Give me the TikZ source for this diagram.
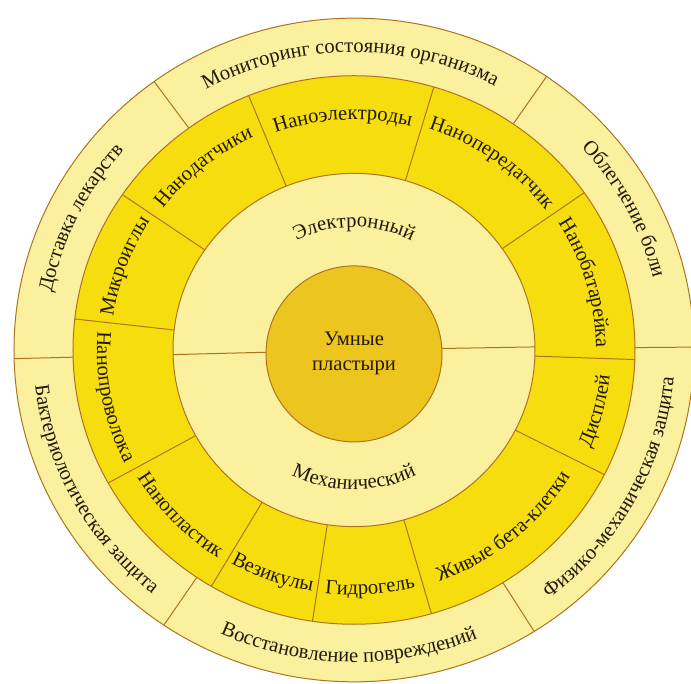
\documentclass[tikz,border=0pt]{standalone}
\usepackage{fontspec}
\setmainfont{Liberation Serif}
\usepackage{tikz}
\usetikzlibrary{
  decorations.text
}
\definecolor{paleyellow}{RGB}{250,240,158}
\definecolor{ringyellow}{RGB}{246,222,14}
\definecolor{coregold}{RGB}{236,198,30}
\definecolor{rimbrown}{RGB}{175,115,30}
\definecolor{inkbrown}{RGB}{35,25,8}
\newcommand{\lblfont}{\fontsize{10.3}{12.5}\selectfont}

\begin{document}
\begin{tikzpicture}[
      x=0.5pt,y=0.5pt,
      sector line/.style={
         draw=rimbrown,
         line width=0.5pt
      },
      cw label/.style={
         decorate,
         decoration={text along path, text align=center,
            text color=inkbrown, text={|\lblfont|#1}}
      },
      ccw label/.style={
         decorate,
         decoration={text along path, text align=center,
            text color=inkbrown, text={|\lblfont|#1}}
      },
      core/.style={
         circle,
         fill=coregold,
         draw=rimbrown,
         line width=0.5pt,
         minimum size=88pt,
         inner sep=0pt,
         align=center,
         text=inkbrown,
         font=\lblfont
      }
    ]
    \clip (-354,-334) rectangle (337,350);
  \begin{scope}[yscale=0.976]
    % rings, outside in
    \filldraw[fill=paleyellow, sector line] (0,0) circle[radius=340];
    \filldraw[fill=ringyellow, sector line] (0,0) circle[radius=281];
    \filldraw[fill=paleyellow, sector line] (0,0) circle[radius=181];
    % outer ring borders
    \draw[sector line] (55.5:281) -- (55.5:340);
    \draw[sector line] (126:281) -- (126:340);
    \draw[sector line] (181.5:281) -- (181.5:340);
    \draw[sector line] (236:281) -- (236:340);
    \draw[sector line] (-58:281) -- (-58:340);
    \draw[sector line] (0.5:281) -- (0.5:340);
    % yellow ring borders
    \draw[sector line] (112:181) -- (112:281);
    \draw[sector line] (73.5:181) -- (73.5:281);
    \draw[sector line] (35:181) -- (35:281);
    \draw[sector line] (-2:181) -- (-2:281);
    \draw[sector line] (-27:181) -- (-27:281);
    \draw[sector line] (-74:181) -- (-74:281);
    \draw[sector line] (-98.5:181) -- (-98.5:281);
    \draw[sector line] (-120.5:181) -- (-120.5:281);
    \draw[sector line] (-151:181) -- (-151:281);
    \draw[sector line] (173.5:181) -- (173.5:281);
    \draw[sector line] (145.5:181) -- (145.5:281);
    % inner ring split
    \draw[sector line] (181.5:88) -- (181.5:181);
    \draw[sector line] (1:88) -- (1:181);
    % outer ring labels
    \path[cw label={Мониторинг состояния организма}]
       (126:305) arc[start angle=126, end angle=55.5, radius=305];
    \path[cw label={Облегчение боли}]
       (55.5:308) arc[start angle=55.5, end angle=0.5, radius=308];
    \path[ccw label={Физико-механическая защита}]
       (-58:321) arc[start angle=-58, end angle=0.5, radius=321];
    \path[ccw label={Восстановление повреждений}]
       (-124:320) arc[start angle=-124, end angle=-58, radius=320];
    \path[ccw label={Бактериологическая защита}]
       (181.5:321) arc[start angle=181.5, end angle=236, radius=321];
    \path[cw label={Доставка лекарств}]
       (181.5:308) arc[start angle=181.5, end angle=126, radius=308];
    % yellow ring labels
    \path[cw label={Наноэлектроды}]
       (112:236) arc[start angle=112, end angle=73.5, radius=236];
    \path[cw label={Нанопередатчик}]
       (73.5:239) arc[start angle=73.5, end angle=35, radius=239];
    \path[cw label={Нанобатарейка}]
       (35:242) arc[start angle=35, end angle=-2, radius=242];
    \path[ccw label={Дисплей}]
       (-27:257) arc[start angle=-27, end angle=-2, radius=257];
    \path[ccw label={Живые бета-клетки}]
       (-74:252) arc[start angle=-74, end angle=-27, radius=252];
    \path[ccw label={Гидрогель}]
       (-98.5:251) arc[start angle=-98.5, end angle=-74, radius=251];
    \path[ccw label={Везикулы}]
       (-120.5:251) arc[start angle=-120.5, end angle=-98.5, radius=251];
    \path[ccw label={Нанопластик}]
       (-151:253) arc[start angle=-151, end angle=-120.5, radius=253];
    \path[ccw label={Нанопроволока}]
       (173.5:257) arc[start angle=173.5, end angle=209, radius=257];
    \path[cw label={Микроиглы}]
       (173.5:243) arc[start angle=173.5, end angle=145.5, radius=243];
    \path[cw label={Нанодатчики}]
       (145.5:240) arc[start angle=145.5, end angle=112, radius=240];
    % inner ring labels
    \path[cw label={Электронный}]
       (150:126) arc[start angle=150, end angle=30, radius=126];
    \path[ccw label={Механический}]
       (210:143) arc[start angle=210, end angle=330, radius=143];
    % centre
    \node (core) [core] at (0,-4) {Умные\\пластыри};
  \end{scope}
\end{tikzpicture}
\end{document}
